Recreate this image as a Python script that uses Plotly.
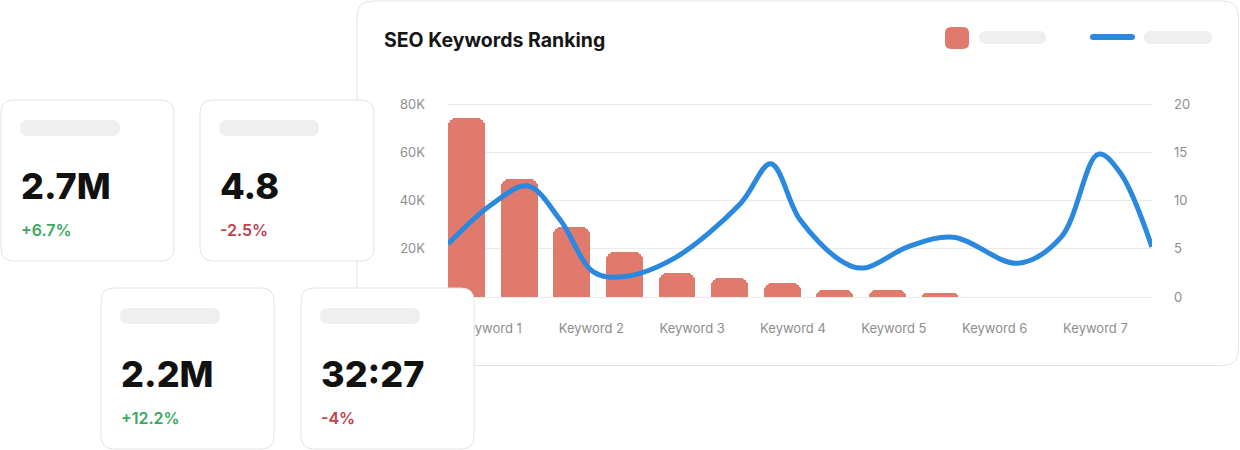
"""
SEO keywords ranking dashboard mock: metric cards plus a bar + spline chart.
"""

import plotly.graph_objects as go

# ---- data -------------------------------------------------------------
KEYWORDS = [f"Keyword {i}" for i in range(1, 8)]
KEYWORD_POS = [1, 2, 3, 4, 5, 6, 7]

BAR_IDX = [0, 1, 2, 3, 4, 5, 6, 7, 8, 9]
BAR_VOLUME = [74000, 49000, 29000, 18500, 9800, 7700, 5700, 2900, 2900, 1800]

RANK_X = [0.58, 1.0, 1.37, 1.69, 2.02, 2.31, 2.82, 3.48, 3.78, 4.07,
          4.47, 4.70, 5.14, 5.59, 6.23, 6.66, 7.03, 7.25, 7.56]
RANK_Y = [5.5, 9.5, 11.5, 8.0, 2.6, 2.1, 4.0, 9.7, 13.8, 8.0,
          3.8, 3.0, 5.2, 6.2, 3.5, 6.2, 14.8, 12.8, 5.2]

LEFT_TICKS = [0, 20000, 40000, 60000, 80000]
LEFT_LABELS = ["", "20K", "40K", "60K", "80K"]
RIGHT_TICKS = [0, 5, 10, 15, 20]

CARD_VALUES = ["2.7M", "4.8", "2.2M", "32:27"]
CARD_DELTAS = ["+6.7%", "-2.5%", "+12.2%", "-4%"]

# ---- layout helpers ---------------------------------------------------
W, H = 1240, 450
# plot area in pixels (2px of slack above 80K and below 0 so both gridlines show)
PL, PR, PT, PB = 448, 1152, 102, 299
Y0_PX, YTOP_PX = 297, 104
Y_PER_PX = 80000 / (Y0_PX - YTOP_PX)

BAR_RED = "#DF7A6D"
LINE_BLUE = "#2B88DF"
BORDER = "#E3E3E3"
PILL = "#EFEFEF"
GREEN = "#3BA85E"
RED = "#C2404B"
FONT = "Inter, Roboto, sans-serif"


def fx(px):
    return (px - PL) / (PR - PL)


def fy(py):
    return (PB - py) / (PB - PT)


def rrect(x0, y0, x1, y1, r):
    pts = [
        ("M", (x0 + r, y0)), ("L", (x1 - r, y0)), ("Q", (x1, y0), (x1, y0 + r)),
        ("L", (x1, y1 - r)), ("Q", (x1, y1), (x1 - r, y1)),
        ("L", (x0 + r, y1)), ("Q", (x0, y1), (x0, y1 - r)),
        ("L", (x0, y0 + r)), ("Q", (x0, y0), (x0 + r, y0)),
    ]
    out = []
    for cmd, *coords in pts:
        out.append(cmd + " " + " ".join(f"{fx(a):.5f},{fy(b):.5f}" for a, b in coords))
    return " ".join(out) + " Z"


def box(x0, y0, x1, y1, r, fill, line=None, layer="above"):
    return dict(
        type="path", xref="paper", yref="paper", path=rrect(x0, y0, x1, y1, r),
        fillcolor=fill, line=dict(color=line or fill, width=1 if line else 0),
        layer=layer,
    )


fig = go.Figure()

fig.add_trace(
    go.Bar(
        x=BAR_IDX, y=BAR_VOLUME, width=0.70,
        marker=dict(color=BAR_RED, cornerradius=8, line=dict(width=0)),
        xaxis="x", yaxis="y", hoverinfo="skip",
    )
)

fig.add_trace(
    go.Scatter(
        x=RANK_X, y=RANK_Y, mode="lines",
        line=dict(color=LINE_BLUE, width=5, shape="spline", smoothing=1.0),
        xaxis="x2", yaxis="y2", hoverinfo="skip",
    )
)

shapes = [
    box(357, 1, 1238.5, 365.5, 16, "#FFFFFF", BORDER, layer="below"),
    # legend placeholders
    box(945, 27, 969, 49, 6, BAR_RED),
    box(979, 31, 1046, 44, 6.5, PILL),
    box(1090, 34, 1135, 40, 3, LINE_BLUE),
    box(1144, 31, 1212, 44, 6.5, PILL),
]

card_boxes = [(1, 100, 174, 261), (200, 100, 374, 261),
              (101, 288, 274, 449), (301, 288, 474, 449)]

annotations = [
    dict(
        text="<b>SEO Keywords Ranking</b>", xref="paper", yref="paper",
        x=fx(382), y=fy(40), xanchor="left", yanchor="middle", showarrow=False,
        font=dict(family=FONT, size=19.5, color="#161616"),
    )
]

for (x0, y0, x1, y1), val, delta in zip(card_boxes, CARD_VALUES, CARD_DELTAS):
    shapes.append(box(x0, y0, x1, y1, 13, "#FFFFFF", BORDER))
    shapes.append(box(x0 + 19, y0 + 20, x0 + 119, y0 + 36, 8, PILL))
    annotations.append(dict(
        text=val, xref="paper", yref="paper", x=fx(x0 + 18), y=fy(y0 + 86),
        xanchor="left", yanchor="middle", showarrow=False,
        font=dict(family=FONT, size=36, color="#111111", weight=800),
    ))
    annotations.append(dict(
        text=delta, xref="paper", yref="paper", x=fx(x0 + 18), y=fy(y0 + 130),
        xanchor="left", yanchor="middle", showarrow=False,
        font=dict(family=FONT, size=16, color=GREEN if delta.startswith("+") else RED,
                  weight=600),
    ))

tickfont = dict(family=FONT, size=13, color="#8E8E8E")

y_lo = -(PB - Y0_PX) * Y_PER_PX
y_hi = 80000 + (YTOP_PX - PT) * Y_PER_PX
r_lo, r_hi = y_lo / 4000, y_hi / 4000

fig.update_layout(
    width=W, height=H,
    margin=dict(l=PL, r=W - PR, t=PT, b=H - PB, pad=0),
    paper_bgcolor="#FFFFFF",
    plot_bgcolor="rgba(0,0,0,0)",
    showlegend=False,
    hovermode=False,
    bargap=0,
    xaxis=dict(range=[-0.352, 13.03], showticklabels=False, showgrid=False,
               zeroline=False, showline=False, fixedrange=True),
    xaxis2=dict(range=[0.578, 7.561], overlaying="x", side="bottom", anchor="y",
                tickvals=KEYWORD_POS, ticktext=KEYWORDS, showgrid=False,
                zeroline=False, showline=False, ticks="", tickfont=tickfont,
                ticklabelstandoff=20, fixedrange=True),
    yaxis=dict(range=[y_lo, y_hi], tickvals=LEFT_TICKS, ticktext=LEFT_LABELS,
               showgrid=True, gridcolor="#EBEBEB", gridwidth=1, zeroline=False,
               showline=False, ticks="", tickfont=tickfont,
               ticklabelstandoff=22, fixedrange=True),
    yaxis2=dict(range=[r_lo, r_hi], tickvals=RIGHT_TICKS, overlaying="y",
                side="right", anchor="x", showgrid=False, zeroline=False,
                showline=False, ticks="", tickfont=tickfont,
                ticklabelstandoff=21, fixedrange=True),
    shapes=shapes,
    annotations=annotations,
)

fig.write_html(
    "out.html",
    config={"displayModeBar": False},
    post_script="document.body.style.margin='0';",
)
